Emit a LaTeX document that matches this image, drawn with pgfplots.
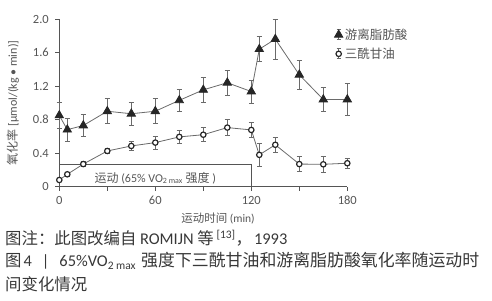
\documentclass[border=0pt]{standalone}
\usepackage{fontspec}
\setmainfont{Carlito}
\newfontfamily\cjk{Noto Sans CJK SC}
\usepackage{pgfplots}
\usepackage{pgfplotstable}
\pgfplotsset{compat=1.18}
\definecolor{axgray}{HTML}{555555}
\definecolor{txtgray}{HTML}{383838}
\definecolor{lngray}{HTML}{6A6A6A}

\pgfplotstableread{
x y e
0 0.85 0.16
5 0.68 0.14
15 0.73 0.135
30 0.90 0.15
45 0.87 0.14
60 0.90 0.15
75 1.03 0.135
90 1.155 0.145
105 1.24 0.15
120 1.135 0.135
125 1.64 0.15
135 1.76 0.24
150 1.335 0.175
165 1.04 0.145
180 1.04 0.19
}\ffa

\pgfplotstableread{
x y e
0 0.08 0.02
5 0.148 0.02
15 0.27 0.03
30 0.426 0.03
45 0.486 0.05
60 0.526 0.075
75 0.594 0.08
90 0.62 0.085
105 0.705 0.095
120 0.677 0.09
125 0.38 0.14
135 0.50 0.085
150 0.27 0.09
165 0.267 0.095
180 0.28 0.06
}\tg

\begin{document}
\begin{tikzpicture}
\useasboundingbox (0pt,0pt) rectangle (492pt,300pt);
\begin{axis}[
  at={(59.3pt,113.3pt)}, anchor=south west,
  scale only axis, width=288pt, height=167.7pt,
  xmin=0, xmax=180, ymin=0, ymax=2,
  axis x line*=bottom, axis y line*=left,
  axis line style={axgray, line width=0.8pt, -},
  clip=false,
  tick align=outside,
  major tick length=4pt, minor tick length=4pt,
  tick style={axgray, line width=0.8pt},
  xtick={0,60,120,180}, minor xtick={30,90,150},
  ytick={0,0.4,0.8,1.2,1.6,2},
  yticklabels={0,0.4,0.8,1.2,1.6,2.0},
  xticklabels={0,60,120,180},
  /pgf/number format/assume math mode=true,
  tick label style={font=\fontsize{12.5}{14}\selectfont, text=axgray},
  yticklabel style={xshift=-3pt},
  xticklabel style={yshift=-2pt},
  ylabel={{\cjk 氧化率} [μmol/(kg • min)]},
  ylabel style={at={(axis description cs:-0.161,0.5)}, anchor=center, font=\fontsize{12}{14}\selectfont, text=axgray},
  xlabel={{\cjk 运动时间} (min)},
  xlabel style={at={(axis description cs:0.551,-0.187)}, anchor=center, font=\fontsize{11.5}{13}\selectfont, text=axgray},
  legend style={at={(axis description cs:0.955,0.955)}, anchor=north west, draw=none, fill=none,
    font=\fontsize{12.5}{14}\selectfont, text=axgray, row sep=3pt, inner sep=0pt, cells={anchor=west}},
  legend image code/.code={
    \draw[lngray, line width=0.7pt] (0pt,-5pt)--(0pt,5pt) (-2pt,5pt)--(2pt,5pt) (-2pt,-5pt)--(2pt,-5pt);
    \draw plot coordinates {(0pt,0pt)};
  },
]
\addplot[axgray, line width=0.8pt, forget plot] coordinates {(0,0.26) (120,0.26) (120,0)};
\addplot[lngray, line width=0.8pt, mark=triangle*, mark size=4.8pt,
  mark options={fill=black!85, draw=black!85, solid},
  error bars/.cd, y dir=both, y explicit,
  error bar style={lngray, line width=0.7pt},
  error mark options={rotate=90, mark size=2.6pt, lngray, line width=0.7pt}]
  table[x=x, y=y, y error=e]{\ffa};
\addlegendentry{{\cjk 游离脂肪酸}}
\addplot[lngray, line width=0.8pt, mark=*, mark size=2.7pt,
  mark options={fill=white, draw=black!85, line width=1.2pt, solid},
  error bars/.cd, y dir=both, y explicit,
  error bar style={lngray, line width=0.7pt},
  error mark options={rotate=90, mark size=2.6pt, lngray, line width=0.7pt}]
  table[x=x, y=y, y error=e]{\tg};
\addlegendentry{{\cjk 三酰甘油}}
\node[font=\fontsize{12}{14}\selectfont, text=axgray] at (axis cs:60,0.105)
  {{\cjk 运动} (65\% VO\textsubscript{2 max} {\cjk 强度} )};
\end{axis}
\node[anchor=west, inner sep=0pt, text=txtgray, font=\fontsize{16.4}{18}\selectfont] at (5pt,62pt)
  {{\cjk 图注：此图改编自} ROMIJN {\cjk 等}\,\textsuperscript{[13]}{\cjk ，}\hspace{2pt}1993};
\node[anchor=west, inner sep=0pt, text=txtgray, font=\fontsize{16.4}{18}\selectfont] at (5pt,39pt)
  {{\cjk 图}\hspace{2pt}4\hspace{10pt}|\hspace{10pt}65\%VO\textsubscript{2 max}\hspace{5pt}{\cjk\fontsize{16.9}{18}\selectfont 强度下三酰甘油和游离脂肪酸氧化率随运动时}};
\node[anchor=west, inner sep=0pt, text=txtgray, font=\fontsize{16.4}{18}\selectfont] at (5pt,16pt)
  {{\cjk 间变化情况}};
\end{tikzpicture}
\end{document}
